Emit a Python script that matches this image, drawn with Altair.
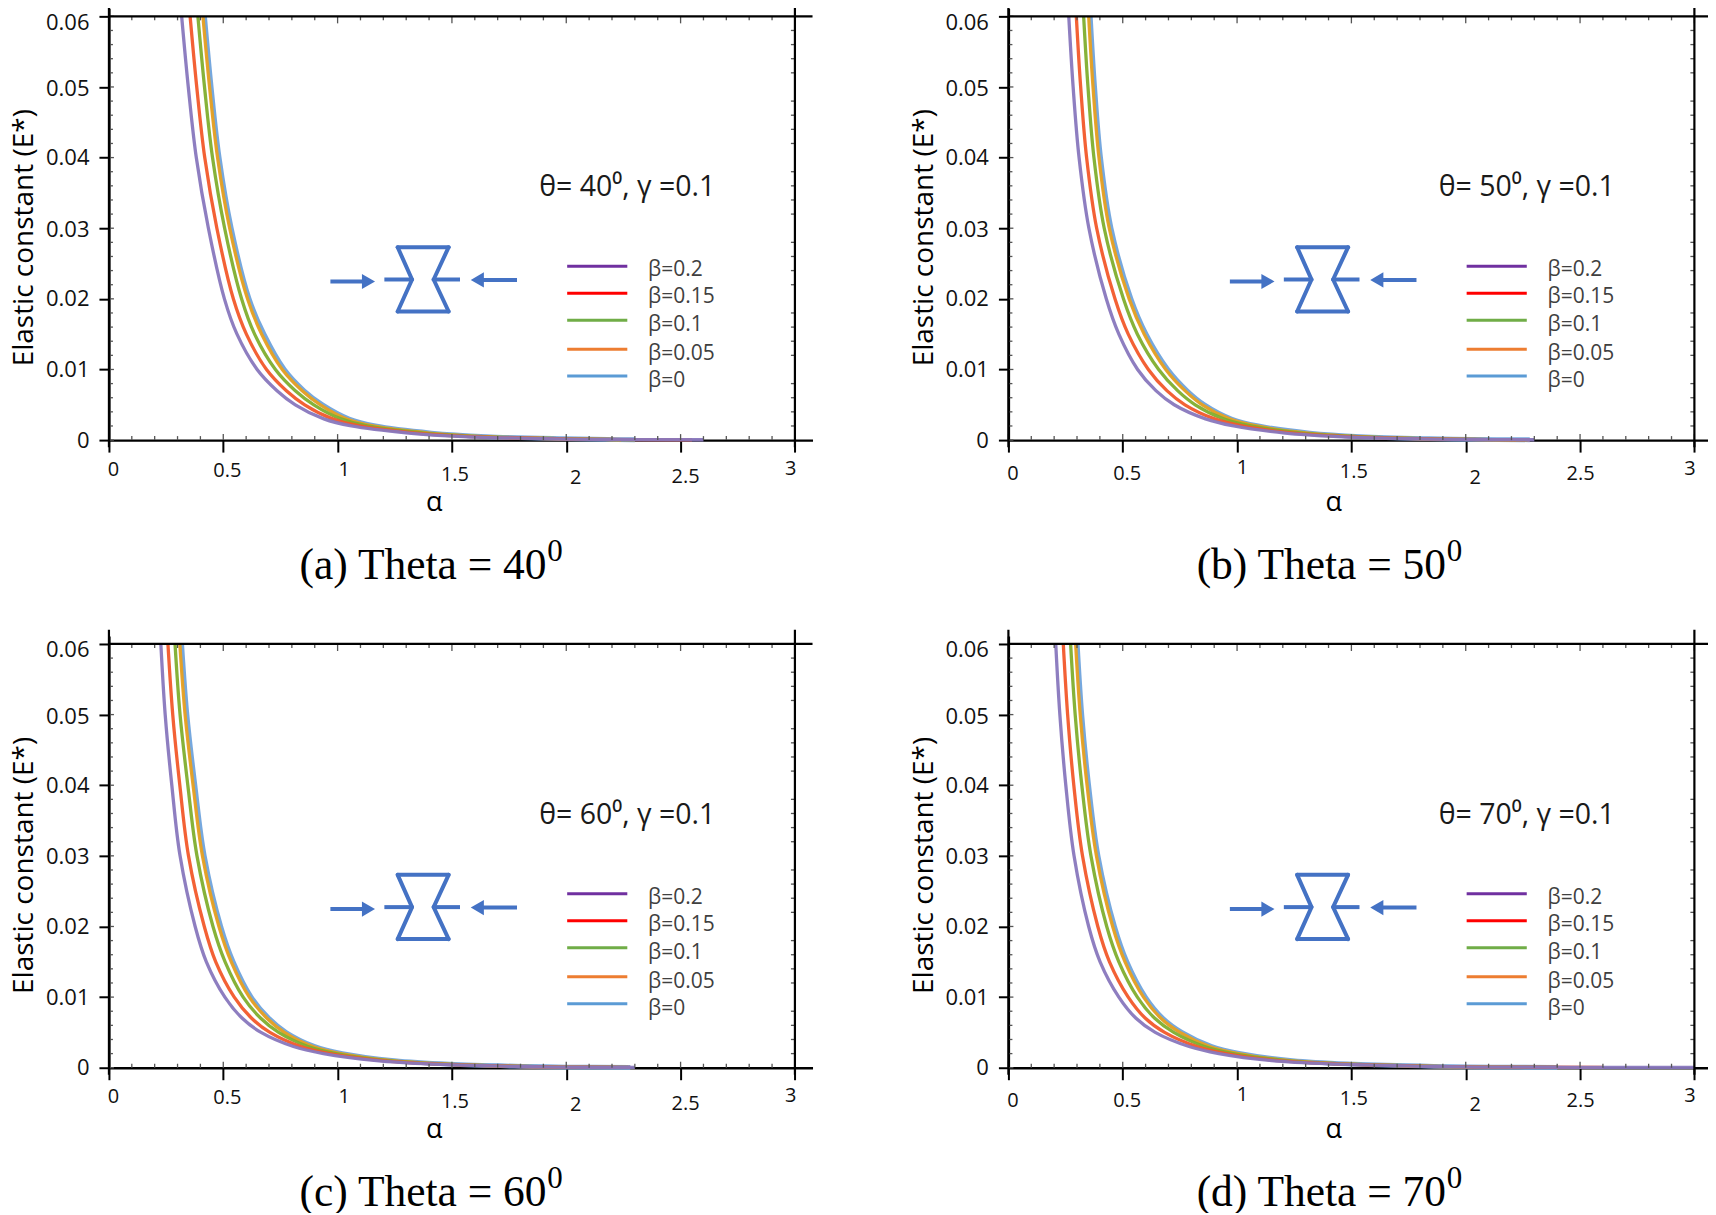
import altair as alt
import pandas as pd

E_LEVELS = [0.06, 0.05, 0.04, 0.03, 0.02, 0.015, 0.01, 0.007, 0.005, 0.003, 0.002, 0.001, 0.0005, 0.0002, 0.0001, 0.00005]

BETA_NAMES = ["β=0.2", "β=0.15", "β=0.1", "β=0.05", "β=0"]
CURVE_COLORS = ["#8877BD", "#F2592A", "#80AE2E", "#E8A020", "#6FA3DC"]
CURVE_WIDTHS = [3.3, 3.3, 3.3, 3.3, 4.8]
LEGEND_COLORS = ["#7030A0", "#FF0000", "#70AD47", "#ED7D31", "#5B9BD5"]

ALPHA_A = [
    [.318,.347,.382,.435,.505,.560,.648,.735,.815,.940,1.06,1.31,1.55,1.90,2.10,2.60],
    [.355,.384,.419,.472,.544,.601,.689,.776,.856,.978,1.096,1.344,1.585,1.93,2.13,2.55],
    [.389,.418,.453,.506,.580,.637,.728,.815,.896,1.015,1.13,1.378,1.62,1.96,2.16,2.30],
    [.411,.440,.475,.528,.606,.668,.758,.845,.925,1.04,1.155,1.40,1.64,1.98,2.17,2.24],
    [.418,.447,.482,.535,.613,.678,.767,.853,.934,1.05,1.165,1.41,1.65,1.99,2.18,2.30],
]
ALPHA_B = [
    [.264,.283,.309,.352,.428,.483,.565,.645,.725,.862,.985,1.21,1.44,1.75,1.95,2.30],
    [.297,.316,.342,.386,.466,.524,.612,.693,.772,.902,1.023,1.248,1.482,1.78,1.977,2.28],
    [.329,.348,.374,.419,.503,.564,.657,.740,.817,.941,1.06,1.285,1.523,1.81,2.003,2.27],
    [.351,.370,.396,.441,.528,.594,.688,.772,.848,.967,1.085,1.31,1.53,1.83,2.02,2.22],
    [.358,.377,.403,.449,.536,.602,.697,.781,.857,.975,1.093,1.318,1.54,1.84,2.03,2.28],
]
ALPHA_C = [
    [.227,.246,.275,.311,.377,.426,.507,.583,.665,.807,.938,1.17,1.42,1.75,1.95,2.30],
    [.258,.279,.310,.348,.417,.467,.548,.624,.704,.839,.967,1.197,1.443,1.769,1.965,2.28],
    [.289,.311,.345,.385,.455,.508,.587,.664,.742,.871,.994,1.222,1.465,1.787,1.98,2.27],
    [.310,.333,.368,.409,.481,.535,.614,.691,.767,.892,1.013,1.24,1.48,1.80,1.99,2.22],
    [.318,.341,.376,.417,.489,.543,.622,.699,.775,.900,1.021,1.248,1.488,1.808,1.998,2.28],
]
ALPHA_D = [
    [.207,.225,.251,.287,.351,.401,.483,.558,.642,.790,.920,1.152,1.44,1.80,2.05,3.00],
    [.240,.259,.286,.324,.391,.442,.524,.599,.683,.824,.952,1.182,1.463,1.819,2.069,2.60],
    [.272,.292,.321,.361,.430,.483,.564,.640,.723,.858,.984,1.212,1.485,1.838,2.088,2.40],
    [.294,.314,.344,.385,.456,.510,.591,.667,.750,.880,1.005,1.232,1.50,1.85,2.10,2.30],
    [.301,.321,.351,.392,.464,.518,.599,.675,.758,.889,1.015,1.242,1.51,1.86,2.11,2.40],
]

X_TICKS = [0, 0.5, 1, 1.5, 2, 2.5, 3]
X_MINOR = [.1,.2,.3,.4,.6,.7,.8,.9,1.1,1.2,1.3,1.4,1.6,1.7,1.8,1.9,2.1,2.2,2.3,2.4,2.6,2.7,2.8,2.9]
Y_TICKS = [0, 0.01, 0.02, 0.03, 0.04, 0.05, 0.06]
Y_MINOR = [.002,.004,.006,.008,.012,.014,.016,.018,.022,.024,.026,.028,.032,.034,.036,.038,.042,.044,.046,.048,.052,.054,.056,.058]

LABEL_SHIFT_LEFT = [4, 3.5, 6, 2.5, 9, 4.5, -4.6]
LABEL_PAD_LEFT = [7, 8, 7, 12, 15, 14, 6]
LABEL_SHIFT_RIGHT = [4, 4, 5, 2, 9, 0, -5]
LABEL_PAD_RIGHT = [11, 11, 5, 9, 15, 11, 6]
Y_LABEL_SHIFT = [0, 0, 0, 1, 0, 2, 6]

PANELS = [
    ("(a) Theta = 40", "θ= 40⁰, γ =0.1", ALPHA_A, LABEL_SHIFT_LEFT, LABEL_PAD_LEFT),
    ("(b) Theta = 50", "θ= 50⁰, γ =0.1", ALPHA_B, LABEL_SHIFT_RIGHT, LABEL_PAD_RIGHT),
    ("(c) Theta = 60", "θ= 60⁰, γ =0.1", ALPHA_C, LABEL_SHIFT_LEFT, LABEL_PAD_LEFT),
    ("(d) Theta = 70", "θ= 70⁰, γ =0.1", ALPHA_D, LABEL_SHIFT_RIGHT, LABEL_PAD_RIGHT),
]

# Little compressed-cell sketch, in the panel's own (alpha, E) units
ICON_SEGMENTS = [
    (1.2627, 0.02731, 1.4856, 0.02731),
    (1.2627, 0.01821, 1.4856, 0.01821),
    (1.2627, 0.02731, 1.3256, 0.02274),
    (1.3256, 0.02274, 1.2627, 0.01821),
    (1.4856, 0.02731, 1.4200, 0.02274),
    (1.4200, 0.02274, 1.4856, 0.01821),
]
ICON_STUBS = [
    (1.2045, 0.02274, 1.3256, 0.02274),
    (1.4200, 0.02274, 1.5354, 0.02274),
    (0.9685, 0.02246, 1.1300, 0.02246),
    (1.6200, 0.02268, 1.7846, 0.02268),
]
ARROW_HEADS = [(1.135, 0.02246, "triangle-right"), (1.611, 0.02268, "triangle-left")]
LEGEND_LINE_Y = [0.02462, 0.02080, 0.01698, 0.01288, 0.00906]
LEGEND_TEXT_Y = [0.02405, 0.02023, 0.01626, 0.01216, 0.00834]

XMAX, YMAX = 3.077, 0.06113
W, H = 704, 432
SX = alt.Scale(domain=[0, XMAX], nice=False, zero=False)
SY = alt.Scale(domain=[0, YMAX], nice=False, zero=False)
SANS = "Open Sans"
PX_3 = 3 / XMAX * W


def lookup(vals, keys):
    return f"{vals}[indexof({keys}, datum.value)]"


def panel(caption, note, alphas, shifts, pads):
    X = alt.X("a:Q", scale=SX, axis=alt.Axis(
        values=X_TICKS, format="~g", title="α", titleFont=SANS, titleFontSize=27,
        titleFontWeight="normal", titleX=325, titleY=62, titleBaseline="middle",
        tickSize=12, tickWidth=2, tickColor="#000", domainColor="#000", domainWidth=2.4,
        labelFont=SANS, labelFontSize=20, labelColor="#111", labelFlush=False, labelOverlap=False,
        labelAngle=0, labelOffset=alt.expr(lookup(shifts, X_TICKS)),
        labelPadding=alt.expr(lookup(pads, X_TICKS)), grid=False))
    Y = alt.Y("e:Q", scale=SY, axis=alt.Axis(
        values=Y_TICKS, format="~g", title="Elastic constant (E*)", titleFont=SANS, titleFontSize=28,
        titleFontWeight="normal", titleX=-84, titleY=229, titleBaseline="middle", titleAngle=270,
        tickSize=10, tickWidth=2, tickColor="#000", domainColor="#000", domainWidth=2.4,
        labelFont=SANS, labelFontSize=22, labelColor="#111", labelPadding=10, labelOverlap=False,
        labelFlush=False, labelOffset=alt.expr(lookup(Y_LABEL_SHIFT, Y_TICKS)), grid=False))

    layers = []
    # curves, blue at the bottom and purple on top
    for i in [4, 3, 2, 1, 0]:
        df = pd.DataFrame({"a": alphas[i], "e": E_LEVELS})
        layers.append(alt.Chart(df).mark_line(color=CURVE_COLORS[i], strokeWidth=CURVE_WIDTHS[i],
                                              interpolate="catmull-rom", opacity=0.95).encode(x=X, y=Y))

    grey = "#555555"
    xt = pd.DataFrame({"a": X_MINOR})
    xm = pd.DataFrame({"a": X_TICKS})
    yt = pd.DataFrame({"e": Y_MINOR})
    ym = pd.DataFrame({"e": Y_TICKS})
    for d, top, bot in [(xt, 428, 432), (xm, 426, 432), (xt, 8, 12), (xm[xm.a > 0], 8, 15)]:
        layers.append(alt.Chart(d).mark_rule(color=grey, strokeWidth=1.3).encode(x=X, y=alt.value(top), y2=alt.value(bot)))
    for d, l, r in [(yt, 0, 4), (ym, 0, 5), (yt, PX_3 - 4, PX_3)]:
        layers.append(alt.Chart(d).mark_rule(color=grey, strokeWidth=1.3).encode(y=Y, x=alt.value(l), x2=alt.value(r)))

    frame = pd.DataFrame({"a": [0, 3], "e": [-0.001, -0.001], "e2": [0.0620, 0.0620]})
    layers.append(alt.Chart(frame).mark_rule(color="#000", strokeWidth=2.2).encode(x=X, y=Y, y2="e2:Q"))
    top_line = pd.DataFrame({"a": [0], "a2": [XMAX], "e": [0.06]})
    layers.append(alt.Chart(top_line).mark_rule(color="#000", strokeWidth=2.2).encode(x=X, x2="a2:Q", y=Y))

    seg = pd.DataFrame(ICON_SEGMENTS, columns=["a", "e", "a2", "e2"])
    layers.append(alt.Chart(seg).mark_rule(color="#4472C4", strokeWidth=4, strokeCap="round").encode(x=X, x2="a2:Q", y=Y, y2="e2:Q"))
    stubs = pd.DataFrame(ICON_STUBS, columns=["a", "e", "a2", "e2"])
    layers.append(alt.Chart(stubs).mark_rule(color="#4472C4", strokeWidth=4).encode(x=X, x2="a2:Q", y=Y, y2="e2:Q"))
    for ax, ey, shape in ARROW_HEADS:
        layers.append(alt.Chart(pd.DataFrame({"a": [ax], "e": [ey]})).mark_point(
            shape=shape, size=230, filled=True, color="#4472C4", opacity=1).encode(x=X, y=Y))

    for i, name in enumerate(BETA_NAMES):
        line = pd.DataFrame({"a": [2.004], "a2": [2.267], "e": [LEGEND_LINE_Y[i]]})
        layers.append(alt.Chart(line).mark_rule(color=LEGEND_COLORS[i], strokeWidth=3).encode(x=X, x2="a2:Q", y=Y))
        label = pd.DataFrame({"a": [2.358], "e": [LEGEND_TEXT_Y[i]], "t": [name]})
        layers.append(alt.Chart(label).mark_text(align="left", baseline="middle", font=SANS, fontSize=21,
                                                 color="#404040").encode(x=X, y=Y, text="t:N"))

    layers.append(alt.Chart(pd.DataFrame({"a": [1.882], "e": [0.0358], "t": [note]})).mark_text(
        align="left", baseline="middle", font=SANS, fontSize=28.5, color="#1a1a1a").encode(x=X, y=Y, text="t:N"))
    layers.append(alt.Chart(pd.DataFrame({"a": [1.914], "e": [-0.0178], "t": [caption]})).mark_text(
        align="right", baseline="middle", font="Liberation Serif", fontSize=43.5, color="#000").encode(x=X, y=Y, text="t:N"))
    layers.append(alt.Chart(pd.DataFrame({"a": [1.917], "e": [-0.0158], "t": ["0"]})).mark_text(
        align="left", baseline="middle", font="Liberation Serif", fontSize=31, color="#000").encode(x=X, y=Y, text="t:N"))

    return alt.layer(*layers).properties(width=W, height=H)


charts = [panel(*p) for p in PANELS]
chart = alt.concat(*charts, columns=2, spacing=196, bounds="flush").properties(
    padding={"left": 101, "top": 0, "right": 1600, "bottom": 1205},
    autosize=alt.AutoSizeParams(type="none"),
    background="white",
).resolve_scale(x="independent", y="independent").configure_view(stroke=None)

chart.save("out.html", embed_options={"renderer": "svg", "actions": False})
